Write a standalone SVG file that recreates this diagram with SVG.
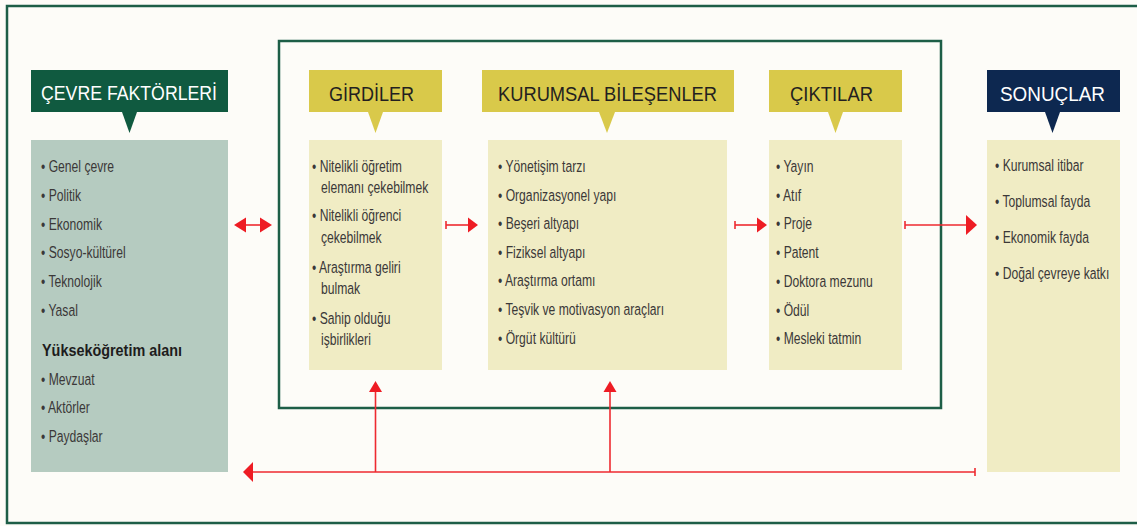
<svg xmlns="http://www.w3.org/2000/svg" width="1137" height="526" viewBox="0 0 1137 526">
<defs>
<style>
.hdr{font-family:"Liberation Sans",Arial,sans-serif;font-size:21px;}
.body{font-family:"Liberation Sans",Arial,sans-serif;font-size:17px;fill:#3b3838;}
.bold{font-family:"Liberation Sans",Arial,sans-serif;font-size:17px;font-weight:bold;fill:#1e1c1c;}
.ln{stroke:#ee2a30;stroke-width:1.6;fill:none;}
.ah{fill:#ee1c24;}
</style>
</defs>
<rect x="0" y="0" width="1137" height="526" fill="#fdfcf8"/>
<rect id="outer-frame" x="7" y="6" width="1140" height="517" fill="none" stroke="#1d5e47" stroke-width="2.5"/>
<rect id="inner-frame" x="279" y="41" width="662" height="367" fill="none" stroke="#1d5e47" stroke-width="2.5"/>

<g id="cevre">
<rect x="31" y="70" width="197" height="42" fill="#105a40"/>
<polygon points="122,112 137,112 129.5,133" fill="#105a40"/>
<text x="41" y="100" class="hdr" fill="#ffffff" textLength="176" lengthAdjust="spacingAndGlyphs">ÇEVRE FAKTÖRLERİ</text>
<rect x="31" y="140" width="197" height="332" fill="#b5cbc0"/>
<g transform="translate(41,0) scale(0.715,1)">
<text class="body"><tspan x="0" y="172">• Genel çevre</tspan><tspan x="0" y="201">• Politik</tspan><tspan x="0" y="230">• Ekonomik</tspan><tspan x="0" y="258">• Sosyo-kültürel</tspan><tspan x="0" y="287">• Teknolojik</tspan><tspan x="0" y="316">• Yasal</tspan><tspan x="0" y="385">• Mevzuat</tspan><tspan x="0" y="413">• Aktörler</tspan><tspan x="0" y="442">• Paydaşlar</tspan></text>
</g>
<text class="bold" x="42" y="356" textLength="140" lengthAdjust="spacingAndGlyphs">Yükseköğretim alanı</text>
</g>

<g id="girdiler">
<rect x="309" y="70" width="133" height="42" fill="#d9c94a"/>
<polygon points="368,112 383,112 375.5,133" fill="#d9c94a"/>
<text x="329" y="101" class="hdr" fill="#231f20" textLength="85" lengthAdjust="spacingAndGlyphs">GİRDİLER</text>
<rect x="309" y="140" width="133" height="230" fill="#f0ecc4"/>
<g transform="translate(312,0) scale(0.715,1)">
<text class="body"><tspan x="0" y="172">• Nitelikli öğretim</tspan><tspan x="12.5" y="193">elemanı çekebilmek</tspan><tspan x="0" y="221">• Nitelikli öğrenci</tspan><tspan x="12.5" y="243">çekebilmek</tspan><tspan x="0" y="273">• Araştırma geliri</tspan><tspan x="12.5" y="294">bulmak</tspan><tspan x="0" y="324">• Sahip olduğu</tspan><tspan x="12.5" y="345">işbirlikleri</tspan></text>
</g>
</g>

<g id="kurumsal">
<rect x="482" y="70" width="252" height="42" fill="#d9c94a"/>
<polygon points="599,112 615,112 607,133" fill="#d9c94a"/>
<text x="498" y="101" class="hdr" fill="#231f20" textLength="219" lengthAdjust="spacingAndGlyphs">KURUMSAL BİLEŞENLER</text>
<rect x="488" y="140" width="239" height="230" fill="#f0ecc4"/>
<g transform="translate(498,0) scale(0.715,1)">
<text class="body"><tspan x="0" y="172">• Yönetişim tarzı</tspan><tspan x="0" y="201">• Organizasyonel yapı</tspan><tspan x="0" y="229">• Beşeri altyapı</tspan><tspan x="0" y="258">• Fiziksel altyapı</tspan><tspan x="0" y="286">• Araştırma ortamı</tspan><tspan x="0" y="315">• Teşvik ve motivasyon araçları</tspan><tspan x="0" y="344">• Örgüt kültürü</tspan></text>
</g>
</g>

<g id="ciktilar">
<rect x="769" y="70" width="133" height="42" fill="#d9c94a"/>
<polygon points="828,112 843,112 835.5,133" fill="#d9c94a"/>
<text x="790" y="101" class="hdr" fill="#231f20" textLength="83" lengthAdjust="spacingAndGlyphs">ÇIKTILAR</text>
<rect x="769" y="140" width="133" height="230" fill="#f0ecc4"/>
<g transform="translate(776,0) scale(0.715,1)">
<text class="body"><tspan x="0" y="172">• Yayın</tspan><tspan x="0" y="201">• Atıf</tspan><tspan x="0" y="229">• Proje</tspan><tspan x="0" y="258">• Patent</tspan><tspan x="0" y="287">• Doktora mezunu</tspan><tspan x="0" y="316">• Ödül</tspan><tspan x="0" y="344">• Mesleki tatmin</tspan></text>
</g>
</g>

<g id="sonuclar">
<rect x="987" y="70" width="133" height="42" fill="#0d2850"/>
<polygon points="1045,112 1060,112 1052.5,133" fill="#0d2850"/>
<text x="1000" y="101" class="hdr" fill="#ffffff" textLength="105" lengthAdjust="spacingAndGlyphs">SONUÇLAR</text>
<rect x="987" y="140" width="133" height="332" fill="#f0ecc4"/>
<g transform="translate(995,0) scale(0.715,1)">
<text class="body"><tspan x="0" y="171">• Kurumsal itibar</tspan><tspan x="0" y="207">• Toplumsal fayda</tspan><tspan x="0" y="243">• Ekonomik fayda</tspan><tspan x="0" y="279">• Doğal çevreye katkı</tspan></text>
</g>
</g>

<g id="connectors">
<line class="ln" x1="244" y1="225" x2="262" y2="225"/>
<polygon class="ah" points="234,225 246,217.5 246,232.5"/>
<polygon class="ah" points="272,225 260,217.5 260,232.5"/>

<line class="ln" x1="446" y1="225" x2="470" y2="225"/>
<line class="ln" x1="446" y1="221" x2="446" y2="229"/>
<polygon class="ah" points="478,225 468,217.5 468,232.5"/>

<line class="ln" x1="735" y1="225" x2="759" y2="225"/>
<line class="ln" x1="735" y1="221" x2="735" y2="229"/>
<polygon class="ah" points="767,225 757,217.5 757,232.5"/>

<line class="ln" x1="905" y1="225" x2="968" y2="225"/>
<line class="ln" x1="905" y1="221" x2="905" y2="229"/>
<polygon class="ah" points="977,225 966,215 966,235"/>

<line class="ln" x1="975" y1="472" x2="252" y2="472"/>
<line class="ln" x1="975" y1="468" x2="975" y2="476"/>
<polygon class="ah" points="243,472 253,462 253,482"/>

<line class="ln" x1="375.5" y1="472" x2="375.5" y2="390"/>
<polygon class="ah" points="375.5,381 369,392 382,392"/>
<line class="ln" x1="610" y1="472" x2="610" y2="390"/>
<polygon class="ah" points="610,381 603.5,392 616.5,392"/>
</g>
</svg>
